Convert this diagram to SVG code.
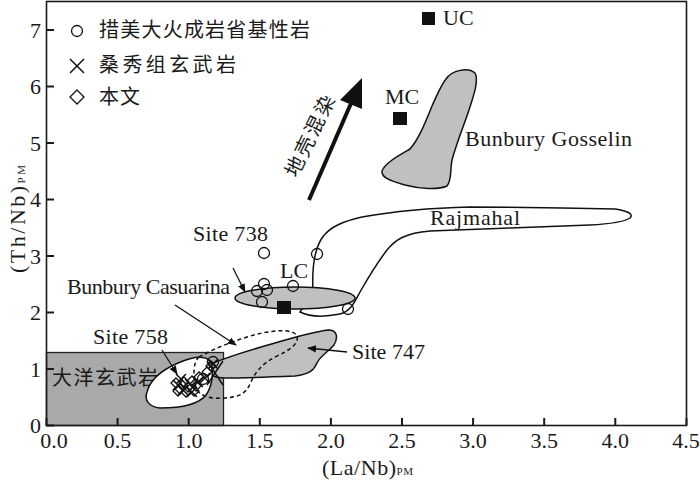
<svg xmlns="http://www.w3.org/2000/svg" width="700" height="482" viewBox="0 0 700 482">
<style>
.t{font-family:"Liberation Serif","Times New Roman",serif;font-size:22px;fill:#1a1a1a}
.c{font-family:"Liberation Serif","Noto Sans CJK SC",serif;font-size:20px;fill:#1a1a1a}
.ax{fill:none;stroke:#1a1a1a;stroke-width:1.6}
.tk{stroke:#1a1a1a;stroke-width:2}
.fld{stroke:#111;stroke-width:1.5}
.ld{stroke:#111;stroke-width:1.3;fill:none}
.o{fill:none;stroke:#111;stroke-width:1.3}
.x{stroke:#111;stroke-width:1.5;fill:none}
.d{fill:none;stroke:#111;stroke-width:1.3}
.sq{fill:#111}
</style>
<defs>
<marker id="ah" viewBox="0 0 10 10" refX="9" refY="5" markerWidth="9" markerHeight="9" markerUnits="userSpaceOnUse" orient="auto">
<path d="M0,1 L10,5 L0,9 Z" fill="#111"/>
</marker>
<symbol id="dm" overflow="visible"><path d="M0,-5 L5,0 L0,5 L-5,0 Z" class="d"/></symbol>
<symbol id="cr" overflow="visible"><path d="M-5,-5 L5,5 M5,-5 L-5,5" class="x"/></symbol>
</defs>
<rect width="700" height="482" fill="#fff"/>

<g id="ocean-basalt">
<rect x="46.5" y="352.5" width="177" height="73" fill="#a9a9a9" stroke="#222" stroke-width="1.3"/>
<text class="c" x="52" y="385" textLength="106" fill="#333">大洋玄武岩</text>
</g>

<g id="rajmahal">
<path class="fld" fill="#fff" d="M313,292 C312,272 314,250 322,238 C330,226 345,221 362,217 C390,212 430,208 470,207 C520,207 580,208 615,209 C628,211 634,214 630,218 C624,222 610,224 590,225 C540,227 480,229 430,231 C405,233 395,240 387,250 C377,263 368,278 360,292 C354,303 350,312 340,314 C325,317 310,317 300,312 Z"/>
<text class="t" x="430" y="225" textLength="90">Rajmahal</text>
</g>

<g id="bunbury-gosselin">
<path class="fld" fill="#c0c0c0" d="M446,79 C452,70 468,67 475,73 C479,80 474,95 468,113 C462,130 456,145 452,160 C450,170 452,180 447,186 C438,190 420,189 405,185 C392,181 381,178 382,171 C385,163 398,156 410,149 C418,140 424,126 432,106 C437,95 441,85 446,79 Z"/>
<text class="t" x="465" y="146" textLength="167">Bunbury Gosselin</text>
</g>

<g id="site-747">
<path class="fld" fill="#c0c0c0" d="M208,365 C225,358 250,350 275,343 C295,337 315,332 328,330 C338,330 338,338 334,345 C328,352 320,356 317,363 C314,370 310,374 295,376 C270,377 245,378 225,378 C214,378 206,374 208,365 Z"/>
<text class="t" x="352" y="359" textLength="73">Site 747</text>
</g>

<g id="site-758">
<path class="fld" fill="#fff" d="M147,392 C150,380 162,370 178,363 C192,357 204,355 210,361 C214,370 213,385 206,395 C198,405 180,408 160,408 C149,407 144,400 147,392 Z"/>
<text class="t" x="93" y="344" textLength="75">Site 758</text>
</g>

<g id="dashed-field">
<path fill="none" stroke="#111" stroke-width="1.5" stroke-dasharray="4,3" d="M199,357 C215,348 240,338 262,333 C278,330 293,329 297,336 C299,344 290,350 275,357 C262,364 255,372 250,384 C246,393 240,397 225,398 C212,399 200,397 196,388 C193,375 193,362 199,357 Z"/>
</g>

<g id="bunbury-casuarina">
<ellipse cx="295" cy="298" rx="60" ry="11" fill="#c0c0c0" class="fld"/>
<text class="t" x="67" y="294" textLength="163">Bunbury Casuarina</text>
</g>

<g id="site-738">
<text class="t" x="193" y="241" textLength="75">Site 738</text>
</g>

<g id="uc">
<rect class="sq" x="422" y="12" width="13" height="13"/>
<text class="t" x="443" y="25">UC</text>
</g>
<g id="mc">
<rect class="sq" x="393" y="112" width="14" height="13"/>
<text class="t" x="385" y="104">MC</text>
</g>
<g id="lc">
<rect class="sq" x="277" y="301" width="14" height="13"/>
<text class="t" x="280" y="278">LC</text>
</g>

<g id="crust-arrow">
<line x1="309" y1="200" x2="352" y2="101" stroke="#111" stroke-width="4"/>
<path d="M362,78 L340,100 L362,109 Z" fill="#111"/>
<text class="c" transform="translate(310,136) rotate(-64)" x="0" y="7" text-anchor="middle" textLength="88">地壳混染</text>
</g>

<g id="connectors">
<line class="ld" x1="233" y1="268" x2="245" y2="292" marker-end="url(#ah)"/>
<line class="ld" x1="175" y1="305" x2="236" y2="345" marker-end="url(#ah)"/>
<line class="ld" x1="162" y1="350" x2="177" y2="374" marker-end="url(#ah)"/>
<line class="ld" x1="347" y1="352" x2="308" y2="348" marker-end="url(#ah)"/>
</g>

<g id="points">
<circle class="o" cx="264" cy="253" r="5.5"/>
<circle class="o" cx="317" cy="254" r="5.5"/>
<circle class="o" cx="293" cy="286" r="5.5"/>
<circle class="o" cx="264" cy="284" r="5.5"/>
<circle class="o" cx="257" cy="291" r="5.5"/>
<circle class="o" cx="267" cy="290" r="5.5"/>
<circle class="o" cx="262" cy="302" r="5.5"/>
<circle class="o" cx="348" cy="309" r="5.5"/>
<circle class="o" cx="213" cy="362" r="5.5"/>
<circle class="o" cx="203" cy="379" r="5.5"/>
<use href="#dm" x="176" y="383"/>
<use href="#dm" x="180" y="389"/>
<use href="#dm" x="184" y="382"/>
<use href="#dm" x="188" y="387"/>
<use href="#dm" x="192" y="381"/>
<use href="#dm" x="196" y="386"/>
<use href="#dm" x="199" y="377"/>
<use href="#dm" x="186" y="392"/>
<use href="#dm" x="178" y="391"/>
<use href="#dm" x="207" y="372"/>
<use href="#dm" x="211" y="366"/>
<use href="#dm" x="194" y="391"/>
<use href="#cr" x="178" y="385"/>
<use href="#cr" x="183" y="390"/>
<use href="#cr" x="190" y="384"/>
<use href="#cr" x="198" y="382"/>
<use href="#cr" x="205" y="378"/>
<use href="#cr" x="213" y="364"/>
<use href="#cr" x="181" y="379"/>
<use href="#cr" x="192" y="392"/>
<path class="x" d="M207,361 L223,385 M223,361 L207,385"/>
</g>

<g id="legend">
<circle class="o" cx="77" cy="31" r="5.5"/>
<text class="c" x="99" y="37" textLength="211">措美大火成岩省基性岩</text>
<path class="x" d="M70,59 L84,73 M84,59 L70,73"/>
<text class="c" x="99" y="72" textLength="137">桑秀组玄武岩</text>
<path d="M77,90 L84,97 L77,104 L70,97 Z" class="d"/>
<text class="c" x="99" y="104" textLength="41">本文</text>
</g>

<g id="axes">
<rect class="ax" x="46.5" y="1.5" width="640" height="424"/>
<path class="tk" d="M46.5,425.5 V418 M117.6,425.5 V418 M188.7,425.5 V418 M259.8,425.5 V418 M330.9,425.5 V418 M402,425.5 V418 M473.1,425.5 V418 M544.2,425.5 V418 M615.3,425.5 V418 M686.5,425.5 V418"/>
<path class="tk" d="M46.5,369 H54 M46.5,312.5 H54 M46.5,256 H54 M46.5,199.5 H54 M46.5,143 H54 M46.5,86.5 H54 M46.5,30 H54 M46.5,425.5 H54"/>
<g class="t" text-anchor="middle">
<text x="54" y="448">0.0</text>
<text x="117.6" y="448">0.5</text>
<text x="188.7" y="448">1.0</text>
<text x="259.8" y="448">1.5</text>
<text x="330.9" y="448">2.0</text>
<text x="402" y="448">2.5</text>
<text x="473.1" y="448">3.0</text>
<text x="544.2" y="448">3.5</text>
<text x="615.3" y="448">4.0</text>
<text x="686" y="448">4.5</text>
</g>
<g class="t" text-anchor="end">
<text x="41" y="433">0</text>
<text x="41" y="377">1</text>
<text x="41" y="320">2</text>
<text x="41" y="264">3</text>
<text x="41" y="207">4</text>
<text x="41" y="151">5</text>
<text x="41" y="94">6</text>
<text x="41" y="38">7</text>
</g>
<text class="t" x="322" y="475" textLength="91">(La/Nb)<tspan font-size="11">PM</tspan></text>
<text class="t" transform="translate(25,273) rotate(-90)" textLength="108">(Th/Nb)<tspan font-size="11">PM</tspan></text>
</g>
</svg>
